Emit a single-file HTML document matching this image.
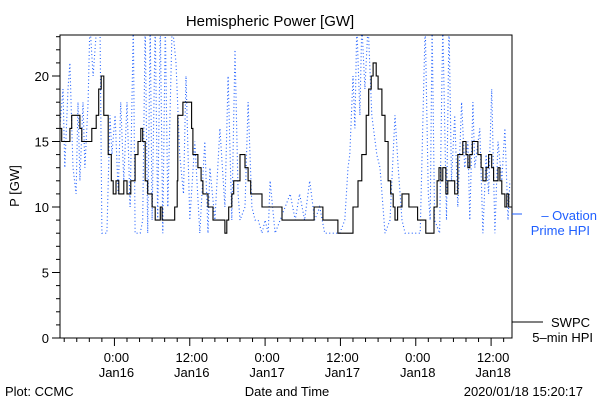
<!DOCTYPE html>
<html><head><meta charset="utf-8"><style>
html,body{margin:0;padding:0;background:#fff;}
svg{display:block;font-family:"Liberation Sans",sans-serif;}
</style></head><body>
<svg id="chart" width="600" height="400" viewBox="0 0 600 400" xmlns="http://www.w3.org/2000/svg">
<rect width="600" height="400" fill="#fff"/>
<text x="270" y="26" font-size="15" text-anchor="middle">Hemispheric Power [GW]</text>
<text x="0" y="0" font-size="13" text-anchor="middle" transform="translate(19,186) rotate(-90)">P [GW]</text>
<g id="ticks"></g>
<defs><clipPath id="plotclip"><rect x="60" y="35" width="452" height="303"/></clipPath></defs>
<g clip-path="url(#plotclip)">
<polyline id="ovation" fill="none" stroke="#1f5fff" stroke-width="1.1" stroke-dasharray="1 2.5"/>
<polyline id="swpc" fill="none" stroke="#000" stroke-width="1.1"/>
</g>
<rect x="60" y="35" width="452" height="303" fill="none" stroke="#000" stroke-width="1"/>
<g>
<line x1="512" y1="214" x2="522" y2="214" stroke="#1f5fff"/>
<text x="597" y="220" font-size="13" fill="#1f5fff" text-anchor="end">–  Ovation</text>
<text x="590" y="235" font-size="13" fill="#1f5fff" text-anchor="end">Prime HPI</text>
<line x1="512" y1="322" x2="543" y2="322" stroke="#000"/>
<text x="590" y="327" font-size="13" text-anchor="end">SWPC</text>
<text x="593" y="342" font-size="13" text-anchor="end">5–min HPI</text>
</g>
<text x="287" y="396" font-size="13" text-anchor="middle">Date and Time</text>
<text x="5" y="396" font-size="13">Plot: CCMC</text>
<text x="583" y="396" font-size="13" text-anchor="end">2020/01/18 15:20:17</text>
</svg>
<script>
// times in hours since 2020-01-16 00:00 UT
const swpcTimes=[-8.7,-8.4,-7.1,-6.8,-5.5,-5.2,-3.6,-2.9,-2.5,-2.1,-1.7,-1.0,-0.5,-0.2,0.25,0.7,1.5,2.0,2.6,3.3,3.75,4.2,4.5,4.9,5.3,6.0,6.5,7.3,7.6,9.6,10.0,10.1,10.9,12.3,12.5,13.3,13.8,14.1,14.9,15.7,17.6,17.9,18.2,18.7,19.0,20.0,20.8,21.3,21.7,23.5,26.7,31.8,33.2,35.6,38.0,38.8,39.4,40.1,40.5,40.9,41.2,41.7,42.0,42.6,43.1,43.6,44.0,44.4,44.7,45.1,45.8,46.9,48.3,49.6,50.9,51.4,51.7,52.0,52.3,52.8,53.1,54.2,54.7,55.5,56.0,56.3,56.6,57.0,57.9,58.4,58.7,59.2,59.6,60.1,60.4,61.1,61.4,61.7,62.2,62.5,62.8,63.3];
const swpcValues=[16,15,16,17,16,15,16,17,19,20,17,14,12,11,12,11,12,11,12,14,15,16,15,12,11,10,9,10,9,10,12,17,18,16,14,13,12,11,10,9,8,9,10,11,12,14,13,12,11,10,9,10,9,8,10,12,14,17,19,20,21,20,19,17,15,12,11,10,9,10,11,10,9,8,10,12,13,12,13,11,12,11,14,15,14,13,14,15,14,13,12,13,14,13,12,13,12,11,10,11,10,10];
const ovTimes=[-8.7,-8.2,-7.9,-7.4,-7.1,-6.6,-6.1,-5.8,-5.5,-5.0,-4.7,-4.2,-3.9,-3.4,-2.8,-2.3,-2.0,-1.2,-0.7,-0.4,0.1,0.6,1.0,1.5,2.0,2.5,3.0,3.3,4.1,4.5,4.9,5.3,5.7,6.0,6.5,6.9,7.3,7.7,8.1,8.5,9.2,9.8,10.4,11.0,11.4,12.0,12.8,13.6,14.4,14.9,15.2,16.0,16.8,17.6,18.1,18.7,19.2,19.7,20.0,20.8,21.3,21.9,22.4,22.9,23.5,24.0,24.5,24.8,25.6,28.0,28.8,29.5,30.3,31.1,31.9,32.7,33.5,34.3,35.9,36.7,37.2,37.5,38.0,38.3,38.6,39.1,39.4,39.9,40.4,41.0,41.8,42.3,43.1,43.9,44.7,45.2,45.8,46.3,47.1,48.7,49.5,50.0,50.3,50.6,51.0,51.8,52.3,52.9,53.3,53.7,54.2,54.7,55.3,55.8,56.3,56.6,57.1,57.4,58.2,58.7,59.2,59.6,60.1,60.6,61.1,61.7,62.2,62.7,63.0];
const ovValues=[16,19,13,19,21,13,11,18,12,18,13,18,24,20,24,24,8,8,17,14,17,11,18,12,18,10,24,8,8,9,24,8,24,9,24,9,24,8,24,10,24,21,14,11,20,9,15,8,15,8,13,9,16,10,20,9,22,11,9,10,18,10,9,9,8,9,8,12,8,11,9,11,9,12,9,10,8,8,8,9,13,14,20,16,24,17,24,19,24,17,14,13,8,9,17,13,9,8,8,8,24,11,9,24,9,8,24,9,24,12,17,10,18,13,15,9,18,13,16,8,14,11,19,8,15,12,16,9,12];
const yTicks=[0,5,10,15,20];
const xTickHours=[0,12,24,36,48,60];
const xTickTimes=["0:00","12:00","0:00","12:00","0:00","12:00"];
const xTickDates=["Jan16","Jan16","Jan17","Jan17","Jan18","Jan18"];
const T0=-8.67,T1=63.33,X0=60,X1=512,YB=338,PXU=13.1;
const xs=h=>X0+(h-T0)/(T1-T0)*(X1-X0);
const ys=v=>YB-v*PXU;
const NS="http://www.w3.org/2000/svg";
let p=[];
for(let i=0;i<swpcTimes.length;i++){
  const x=xs(swpcTimes[i]);
  if(i>0)p.push(x.toFixed(1)+","+ys(swpcValues[i-1]).toFixed(1));
  p.push(x.toFixed(1)+","+ys(swpcValues[i]).toFixed(1));
}
document.getElementById('swpc').setAttribute('points',p.join(' '));
let q=[];
for(let i=0;i<ovTimes.length;i++){
  q.push(xs(ovTimes[i]).toFixed(1)+","+ys(ovValues[i]).toFixed(1));
}
document.getElementById('ovation').setAttribute('points',q.join(' '));
const g=document.getElementById('ticks');
function ln(x1,y1,x2,y2){const l=document.createElementNS(NS,'line');l.setAttribute('x1',x1);l.setAttribute('y1',y1);l.setAttribute('x2',x2);l.setAttribute('y2',y2);l.setAttribute('stroke','#000');g.appendChild(l);return l;}
function tx(x,y,s,anchor){const t=document.createElementNS(NS,'text');t.setAttribute('x',x);t.setAttribute('y',y);t.setAttribute('font-size','13');t.setAttribute('text-anchor',anchor);t.textContent=s;g.appendChild(t);return t;}
for(let v=0;v<=23;v++){
  const y=ys(v);
  const l=ln(v%5===0?52:56,y,60,y);
  
  
}
yTicks.forEach(v=>{
  const t=tx(49,ys(v)+5,String(v),'end');
  
  
});
for(let h=-8;h<=63;h+=2){
  const x=xs(h);
  const l=ln(x,338,x,h%12===0?346:342);
  
  
}
xTickHours.forEach((h,i)=>{
  const x=xs(h)+2;
  const a=tx(x,362,xTickTimes[i],'middle');
  
  
  const b=tx(x,377,xTickDates[i],'middle');
  
  
});
</script>
</body></html>
